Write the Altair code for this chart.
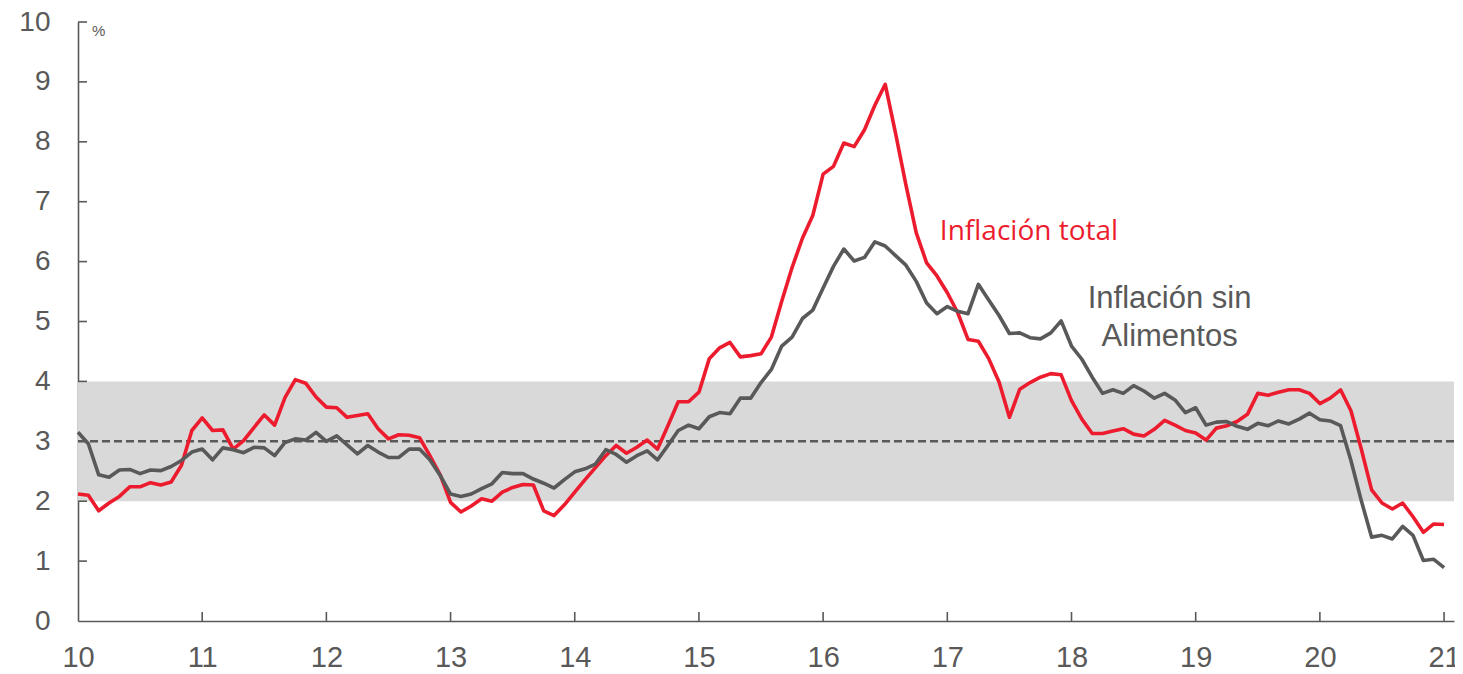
import altair as alt
import pandas as pd

# Monthly data, Jan 2010 .. Jan 2021 (x in years since 2000, "10" = 2010)
total = [2.12, 2.10, 1.84, 1.97, 2.08, 2.24, 2.24, 2.31, 2.27, 2.32, 2.60, 3.18,
         3.39, 3.18, 3.19, 2.87, 3.01, 3.23, 3.44, 3.27, 3.73, 4.03, 3.97, 3.74,
         3.57, 3.56, 3.40, 3.43, 3.46, 3.21, 3.04, 3.11, 3.10, 3.06, 2.76, 2.44,
         1.98, 1.82, 1.92, 2.04, 2.00, 2.15, 2.23, 2.28, 2.27, 1.84, 1.76, 1.94,
         2.15, 2.36, 2.56, 2.76, 2.93, 2.80, 2.90, 3.02, 2.87, 3.26, 3.66, 3.66,
         3.82, 4.38, 4.56, 4.65, 4.41, 4.43, 4.46, 4.74, 5.34, 5.90, 6.39, 6.77,
         7.46, 7.59, 7.98, 7.92, 8.20, 8.61, 8.96, 8.14, 7.28, 6.48, 5.98, 5.76,
         5.48, 5.15, 4.70, 4.67, 4.38, 3.99, 3.40, 3.87, 3.98, 4.07, 4.13, 4.11,
         3.68, 3.37, 3.13, 3.13, 3.17, 3.21, 3.12, 3.09, 3.20, 3.35, 3.27, 3.18,
         3.14, 3.02, 3.22, 3.26, 3.33, 3.45, 3.80, 3.77, 3.82, 3.86, 3.86, 3.80,
         3.63, 3.72, 3.86, 3.51, 2.87, 2.19, 1.97, 1.87, 1.97, 1.74, 1.48, 1.62,
         1.61]

sin_alimentos = [3.15, 2.96, 2.44, 2.40, 2.52, 2.53, 2.46, 2.52, 2.51, 2.58, 2.68, 2.82,
                 2.87, 2.69, 2.89, 2.86, 2.81, 2.90, 2.89, 2.76, 2.98, 3.04, 3.02, 3.15,
                 3.00, 3.09, 2.94, 2.79, 2.93, 2.82, 2.73, 2.73, 2.87, 2.87, 2.69, 2.43,
                 2.12, 2.08, 2.12, 2.21, 2.29, 2.48, 2.46, 2.46, 2.37, 2.30, 2.22, 2.36,
                 2.49, 2.54, 2.62, 2.86, 2.78, 2.65, 2.76, 2.84, 2.69, 2.93, 3.18, 3.27,
                 3.21, 3.41, 3.48, 3.46, 3.72, 3.72, 3.98, 4.20, 4.59, 4.74, 5.05, 5.19,
                 5.56, 5.92, 6.21, 6.01, 6.07, 6.33, 6.26, 6.10, 5.94, 5.67, 5.31, 5.13,
                 5.25, 5.17, 5.13, 5.62, 5.36, 5.10, 4.80, 4.81, 4.73, 4.71, 4.81, 5.01,
                 4.59, 4.37, 4.07, 3.80, 3.86, 3.80, 3.93, 3.84, 3.72, 3.80, 3.69, 3.48,
                 3.56, 3.27, 3.32, 3.33, 3.25, 3.20, 3.30, 3.26, 3.34, 3.29, 3.37, 3.47,
                 3.36, 3.34, 3.26, 2.68, 2.01, 1.40, 1.43, 1.37, 1.58, 1.43, 1.01, 1.03,
                 0.89]

x_ticks = list(range(10, 22))
y_ticks = list(range(0, 11))
band_low, band_high, target = 2, 4, 3

W, H = 1376, 599
GRAY = "#595959"
RED = "#EC1C2E"

n = len(total)
df = pd.DataFrame({
    "t": [10 + i / 12 for i in range(n)] * 2,
    "v": total + sin_alimentos,
    "serie": ["Inflación total"] * n + ["Inflación sin Alimentos"] * n,
})

xs = alt.Scale(domain=[10, 21.08], nice=False, zero=False)
ys = alt.Scale(domain=[0, 10], nice=False, zero=False)

XAX = alt.Axis(values=x_ticks, format="d", ticks=False, grid=False,
               labelFontSize=29, labelColor=GRAY, labelFont="Liberation Sans",
               domainColor=GRAY, domainWidth=1.6, labelPadding=22,
               title=None, labelFlush=False)
YAX = alt.Axis(values=y_ticks, format="d", ticks=False, grid=False,
               labelFontSize=28, labelColor=GRAY, labelFont="Liberation Sans",
               domainColor=GRAY, domainWidth=1.6, labelPadding=28,
               title=None, labelFlush=False)


def X(f):
    return alt.X(f, scale=xs, axis=XAX)


def Y(f):
    return alt.Y(f, scale=ys, axis=YAX)


band = alt.Chart(pd.DataFrame({"lo": [band_low], "hi": [band_high]})).mark_rect(color="#D9D9D9").encode(
    x=alt.value(0), x2=alt.value(W),
    y=Y("lo:Q"), y2="hi:Q")

dash = alt.Chart(pd.DataFrame({"y": [target]})).mark_rule(
    color=GRAY, strokeWidth=2.5, strokeDash=[8, 4]).encode(
    x=alt.value(0), x2=alt.value(W), y=Y("y:Q"))

lines = alt.Chart(df).mark_line(strokeWidth=3.6, strokeJoin="round").encode(
    x=X("t:Q"), y=Y("v:Q"),
    color=alt.Color("serie:N", scale=alt.Scale(domain=["Inflación total", "Inflación sin Alimentos"],
                                               range=[RED, GRAY]), legend=None),
    order=alt.Order("t:Q"))

yt = alt.Chart(pd.DataFrame({"y": y_ticks[1:]})).mark_rule(color=GRAY, strokeWidth=1.6).encode(
    x=alt.value(0), x2=alt.value(9), y=Y("y:Q"))
xt = alt.Chart(pd.DataFrame({"x": x_ticks[1:]})).mark_rule(color=GRAY, strokeWidth=1.6).encode(
    x=X("x:Q"), y=alt.value(H), y2=alt.value(H - 9))

pct = alt.Chart(pd.DataFrame({"s": ["%"]})).mark_text(
    text="%", font="Liberation Sans", fontSize=15, color=GRAY, align="left", baseline="middle").encode(
    x=alt.value(14), y=alt.value(9))

lab_red = alt.Chart(pd.DataFrame({"x": [16.94], "y": [6.5], "s": ["Inflación total"]})).mark_text(
    font="Open Sans", fontSize=28, color=RED, align="left", baseline="middle").encode(
    x=X("x:Q"), y=Y("y:Q"), text="s:N")

lab_gray = alt.Chart(pd.DataFrame({"x": [18.79, 18.79], "y": [5.37, 4.74],
                                   "s": ["Inflación sin", "Alimentos"]})).mark_text(
    font="Liberation Sans", fontSize=31, color=GRAY, align="center", baseline="middle").encode(
    x=X("x:Q"), y=Y("y:Q"), text="s:N")

chart = alt.layer(band, dash, lines, yt, xt, pct, lab_red, lab_gray).properties(
    width=W, height=H,
    autosize=alt.AutoSizeParams(type="none"),
    padding={"left": 70, "top": 14, "right": 1, "bottom": 56},
).configure(background="white").configure_view(stroke=None)

chart.save("out.html", embed_options={"renderer": "svg", "actions": False})
